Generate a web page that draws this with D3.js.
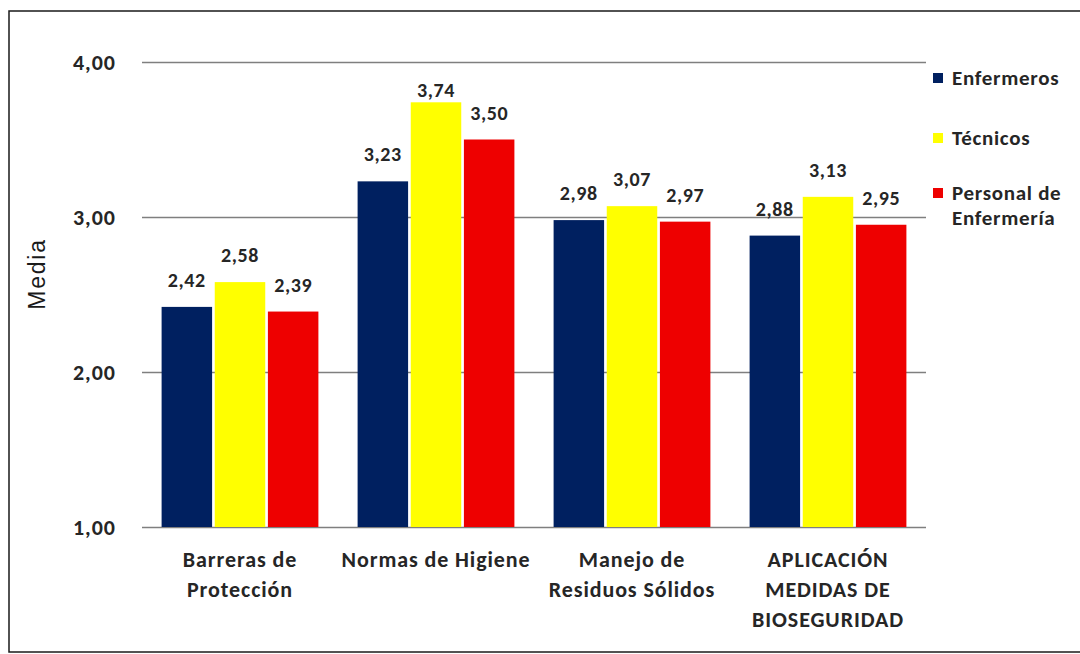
<!DOCTYPE html>
<html>
<head>
<meta charset="utf-8">
<script src="https://cdn.jsdelivr.net/npm/d3@7"></script>
<style>
  html, body { margin: 0; padding: 0; background: #ffffff; overflow: hidden; }
  svg { display: block; }
  text { font-family: Carlito, Lato, "Open Sans", sans-serif; }
</style>
</head>
<body>
<svg id="chart" width="1080" height="654"></svg>
<script>
// Mean scores by dimension and staff group
const categories = [
  ["Barreras de", "Protección"],
  ["Normas de Higiene"],
  ["Manejo de", "Residuos Sólidos"],
  ["APLICACIÓN", "MEDIDAS DE", "BIOSEGURIDAD"]
];
const seriesNames = ["Enfermeros", "Técnicos", "Personal de Enfermería"];
const enfermeros = [2.42, 3.23, 2.98, 2.88];
const tecnicos = [2.58, 3.74, 3.07, 3.13];
const personalEnfermeria = [2.39, 3.50, 2.97, 2.95];
const yTicks = [1, 2, 3, 4];
const colors = ["#002060", "#ffff00", "#ee0000"];

const seriesValues = [enfermeros, tecnicos, personalEnfermeria];
const fmt = v => d3.format(".2f")(v).replace(".", ",");

const svg = d3.select("#chart");

// outer frame
svg.append("rect")
  .attr("x", 9).attr("y", 11)
  .attr("width", 1090).attr("height", 641)
  .attr("fill", "none").attr("stroke", "#1a1a1a").attr("stroke-width", 1.5);

const plot = { left: 142, right: 926, top: 62, bottom: 527 };

const x0 = d3.scaleBand()
  .domain(d3.range(categories.length))
  .range([plot.left, plot.right])
  .paddingInner(0.2)
  .paddingOuter(0.1);

const x1 = d3.scaleBand()
  .domain(d3.range(seriesNames.length))
  .range([0, x0.bandwidth()])
  .paddingInner(0.05);

const y = d3.scaleLinear().domain([1, 4]).range([plot.bottom, plot.top]);

// gridlines and tick labels
const yAxis = d3.axisLeft(y)
  .tickValues(yTicks)
  .tickSize(-(plot.right - plot.left))
  .tickFormat(fmt)
  .tickPadding(26);

const gy = svg.append("g")
  .attr("transform", `translate(${plot.left},0)`)
  .call(yAxis);
gy.select(".domain").remove();
gy.selectAll(".tick line").attr("stroke", "#7f7f7f").attr("stroke-width", 1.3);
gy.selectAll(".tick text")
  .attr("fill", "#262626")
  .style("font-size", "22px")
  .style("font-weight", "bold")
  .style("letter-spacing", "1px")
  .attr("dy", "0.35em");

// y axis title
svg.append("text")
  .attr("transform", "translate(45,274) rotate(-90)")
  .attr("text-anchor", "middle")
  .attr("fill", "#1a1a1a")
  .style("font-family", "'Liberation Sans', Arial, sans-serif")
  .style("font-size", "23px")
  .style("letter-spacing", "1.8px")
  .text("Media");

// bars
const groups = svg.append("g").selectAll("g")
  .data(categories.map((c, i) => i))
  .join("g")
  .attr("transform", i => `translate(${x0(i)},0)`);

groups.selectAll("rect")
  .data(i => seriesValues.map((vals, s) => ({ s, v: vals[i] })))
  .join("rect")
  .attr("x", d => x1(d.s))
  .attr("width", x1.bandwidth())
  .attr("y", d => y(d.v))
  .attr("height", d => y(1) - y(d.v))
  .attr("fill", d => colors[d.s]);

// value labels, kept clear of the top gridline
groups.selectAll("text.val")
  .data(i => seriesValues.map((vals, s) => ({ s, v: vals[i] })))
  .join("text")
  .attr("class", "val")
  .attr("x", d => x1(d.s) + x1.bandwidth() / 2)
  .attr("y", d => Math.max(y(d.v) - 20, plot.top + 35))
  .attr("text-anchor", "middle")
  .attr("fill", "#262626")
  .style("font-size", "20px")
  .style("font-weight", "bold")
  .style("letter-spacing", "0.6px")
  .text(d => fmt(d.v));

// category labels
const cat = svg.append("g").selectAll("text")
  .data(categories)
  .join("text")
  .attr("x", (d, i) => x0(i) + x0.bandwidth() / 2)
  .attr("y", 567)
  .attr("text-anchor", "middle")
  .attr("fill", "#262626")
  .style("font-size", "22px")
  .style("font-weight", "bold")
  .style("letter-spacing", "0.9px");
cat.selectAll("tspan")
  .data(d => d)
  .join("tspan")
  .attr("x", function () { return d3.select(this.parentNode).attr("x"); })
  .attr("dy", (d, i) => i === 0 ? 0 : 30)
  .text(d => d);

// legend
const legendLines = [["Enfermeros"], ["Técnicos"], ["Personal de", "Enfermería"]];
const legendY = [78, 138, 193];
const lg = svg.append("g")
  .attr("class", "legend")
  .selectAll("g")
  .data(seriesNames.map((n, i) => i))
  .join("g")
  .attr("transform", i => `translate(933,${legendY[i]})`);
lg.append("rect")
  .attr("x", 0).attr("y", -5)
  .attr("width", 10).attr("height", 10)
  .attr("fill", i => colors[i]);
lg.each(function (i) {
  const g = d3.select(this);
  legendLines[i].forEach((line, k) => {
    g.append("text")
      .attr("x", 19)
      .attr("y", k * 25)
      .attr("dy", "0.35em")
      .attr("fill", "#262626")
      .style("font-size", "21px")
      .style("font-weight", "bold")
      .style("letter-spacing", "0.7px")
      .text(line);
  });
});
</script>
</body>
</html>
